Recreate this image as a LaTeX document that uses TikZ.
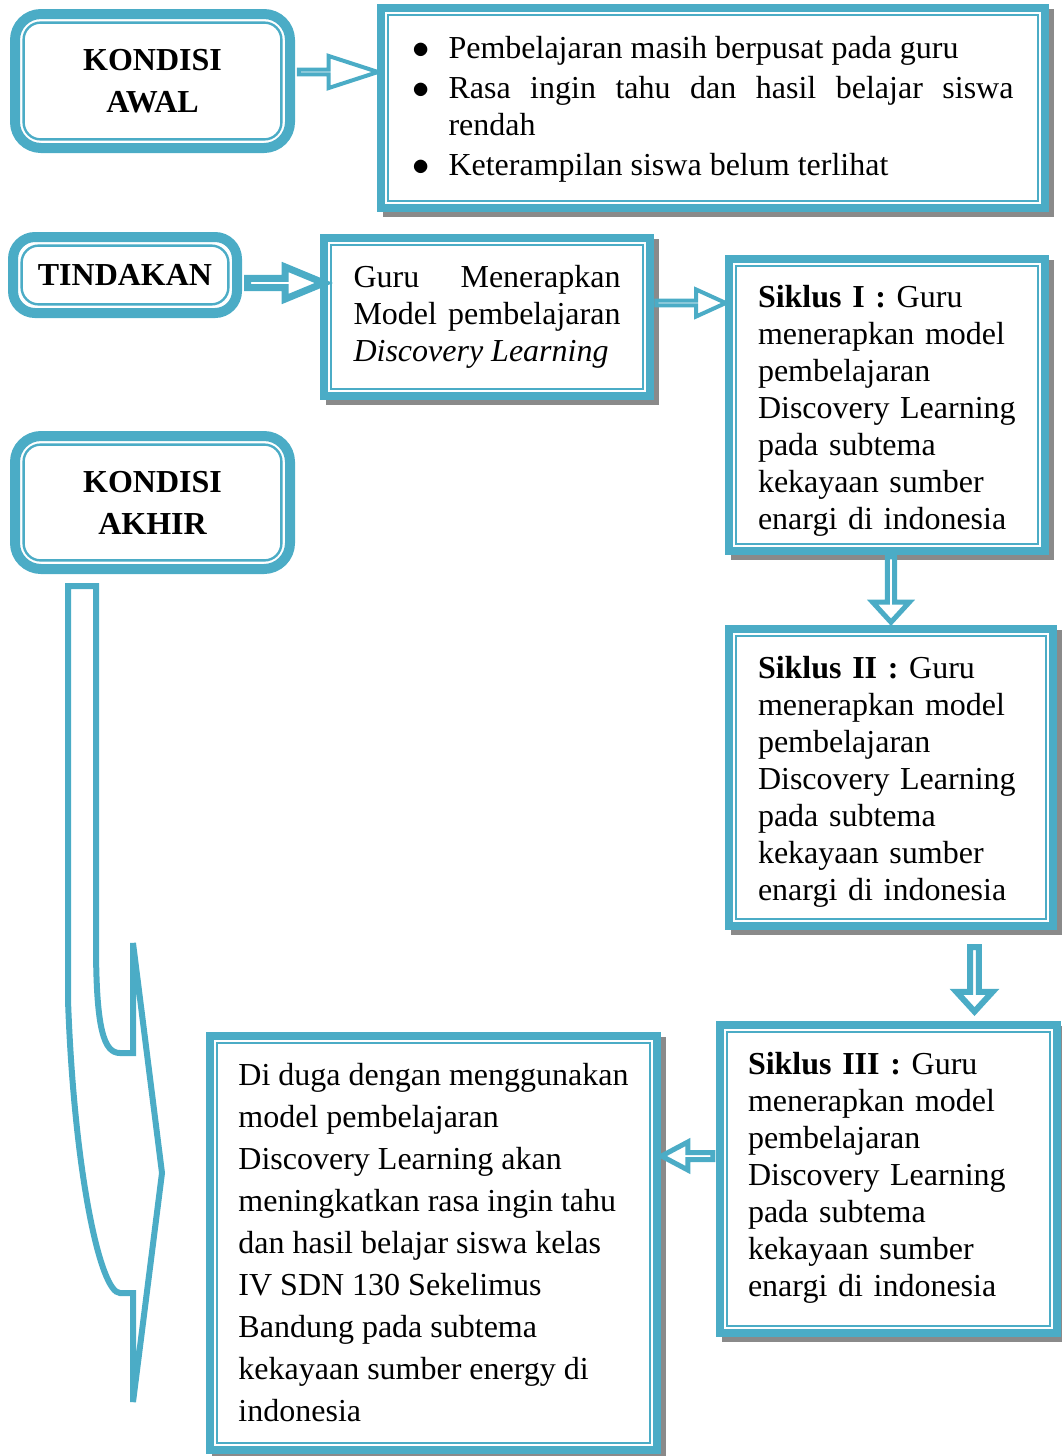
\documentclass[tikz,border=0pt]{standalone}
\usepackage{fontspec}
\setmainfont{Liberation Serif}
\usepackage{tikz}
\usetikzlibrary{calc,shapes.arrows,shadows}
\definecolor{boxteal}{HTML}{4BACC6}
\definecolor{shadegray}{HTML}{8A8A8A}
\newcommand{\pitem}[1]{\par\hangindent=18pt\hangafter=1\noindent\makebox[18pt][l]{$\bullet$}#1\par}
\newcommand{\flowarrow}[4][]{%
  \path let \p1=(#3), \p2=(#4), \n1={veclen(\x2-\x1,\y2-\y1)}, \n2={atan2(\y2-\y1,\x2-\x1)} in
    (#3) -- (#4) node[blockarrow, midway, rotate=\n2, minimum height=\n1, #1] (#2) {};}
\tikzset{
  ovalbox/.style={draw=boxteal, line width=5pt, rounded corners=13pt, fill=white, inner sep=0pt,
    align=center, font=\fontsize{16}{21}\selectfont\bfseries,
    path picture={\draw[boxteal, line width=1.2pt, rounded corners=8.5pt]
      ([xshift=4.3pt,yshift=-4.3pt]path picture bounding box.north west) rectangle
      ([xshift=-4.3pt,yshift=4.3pt]path picture bounding box.south east);}},
  squarebox/.style={draw=boxteal, line width=3.8pt, fill=white, inner sep=0pt,
    font=\fontsize{16}{18.5}\selectfont,
    drop shadow={shadow xshift=2.8pt, shadow yshift=-2.6pt, fill=shadegray, draw=shadegray, line width=3.8pt, opacity=1},
    path picture={\draw[boxteal, line width=1.1pt]
      ([xshift=3.6pt,yshift=-3.6pt]path picture bounding box.north west) rectangle
      ([xshift=-3.6pt,yshift=3.6pt]path picture bounding box.south east);}},
  siklusbox/.style={squarebox, align=left, execute at end node={\par\vspace{#1}}},
  blockarrow/.style={single arrow, draw=boxteal, fill=white, inner sep=0pt, single arrow head indent=0pt}
}
\begin{document}
\begin{tikzpicture}[x=.5pt,y=-.5pt]
\useasboundingbox (0,0) rectangle (1061,1456);
%left column
\node[ovalbox, minimum width=137.5pt, minimum height=67pt] (awal) at (152.5,81) {KONDISI\\AWAL};
\node[ovalbox, minimum width=112pt, minimum height=38pt, rounded corners=11pt] (tindakan) at (125,275) {TINDAKAN};
\node[ovalbox, minimum width=137.5pt, minimum height=66.5pt] (akhir) at (152.5,502.5) {KONDISI\\AKHIR};
%boxes
\node[squarebox, minimum width=332pt, minimum height=100pt, text width=300.5pt, align=justify,
  execute at begin node={\setlength{\parskip}{1.5pt}}, execute at end node={\vspace{8pt}}] (masalah) at (713,108) {%
  \pitem{Pembelajaran masih berpusat pada guru}
  \pitem{Rasa ingin tahu dan hasil belajar siswa\linebreak rendah}
  \pitem{Keterampilan siswa belum terlihat}};
\node[squarebox, minimum width=163pt, minimum height=79pt, text width=133.5pt, align=justify] (guru) at (487,317)
  {Guru Menerapkan\linebreak Model pembelajaran\linebreak \textit{Discovery Learning}};
\node[siklusbox=-6pt, minimum width=158pt, minimum height=146pt, text width=129pt] (siklus1) at (887,405)
  {\textbf{Siklus I :} Guru\\menerapkan model\\pembelajaran\\Discovery Learning\\pada subtema\\kekayaan sumber\\enargi di indonesia};
\node[siklusbox=-4pt, minimum width=162pt, minimum height=148.5pt, text width=133pt] (siklus2) at (891,777.5)
  {\textbf{Siklus II :} Guru\\menerapkan model\\pembelajaran\\Discovery Learning\\pada subtema\\kekayaan sumber\\enargi di indonesia};
\node[siklusbox=1pt, minimum width=168.5pt, minimum height=154pt, text width=140.5pt] (siklus3) at (888.5,1179)
  {\textbf{Siklus III :} Guru\\menerapkan model\\pembelajaran\\Discovery Learning\\pada subtema\\kekayaan sumber\\enargi di indonesia};
\node[squarebox, minimum width=223.5pt, minimum height=207pt, align=left,
  font=\fontsize{16}{21}\selectfont] (hipotesis) at (433.5,1243)
  {Di duga dengan menggunakan\\model pembelajaran\\Discovery Learning akan\\meningkatkan rasa ingin tahu\\dan hasil belajar siswa kelas\\IV SDN 130 Sekelimus\\Bandung pada subtema\\kekayaan sumber energy di\\indonesia};
%arrow ends
\coordinate (a1) at ($(awal.east)+(0,-9)$);
\coordinate (a2) at ($(a1 -| masalah.west)+(-3,0)$);
\coordinate (t1) at ($(tindakan.east)+(0,8)$);
\coordinate (t2) at ($(t1 -| guru.west)+(-2,0)$);
\coordinate (g1) at ($(guru.east)+(0,-14)$);
\coordinate (g2) at ($(g1 -| siklus1.west)+(-2,0)$);
\coordinate (k1) at (siklus2.north |- siklus1.south);
\coordinate (k2) at ($(siklus2.north)+(0,-5)$);
\coordinate (m1) at ($(siklus2.south)+(83.5,15)$);
\coordinate (m2) at ($(siklus3.north)+(86,-12)$);
\coordinate (h1) at ($(siklus3.west)+(0,-23)$);
\coordinate (h2) at ($(h1 -| hipotesis.east)+(4,0)$);
\flowarrow[line width=2pt, minimum width=16pt, single arrow head extend=5.5pt, single arrow tip angle=36]{arr1}{a1}{a2}
\flowarrow[line width=3.5pt, minimum width=16pt, single arrow head extend=4.25pt, single arrow tip angle=45]{arr2}{t1}{t2}
\flowarrow[line width=2pt, minimum width=13.5pt, single arrow head extend=4.75pt, single arrow tip angle=49]{arr3}{g1}{g2}
\flowarrow[line width=2.5pt, minimum width=18.5pt, single arrow head extend=5pt, single arrow tip angle=85]{arr4}{k1}{k2}
\flowarrow[line width=3pt, minimum width=18pt, single arrow head extend=4.75pt, single arrow tip angle=85]{arr5}{m1}{m2}
\flowarrow[line width=2.5pt, minimum width=14pt, single arrow head extend=3.75pt, single arrow tip angle=56]{arr6}{h1}{h2}
%brace
\draw[boxteal, line width=3pt] (68,586) -- (96,586) -- (96,943) .. controls (96,1030) and (104,1053) .. (120,1053)
  -- (133,1053) -- (133,943) -- (162,1173) -- (133,1402) -- (133,1293) -- (120,1293)
  .. controls (100,1293) and (74,1170) .. (68,1000) -- cycle;
\end{tikzpicture}
\end{document}
